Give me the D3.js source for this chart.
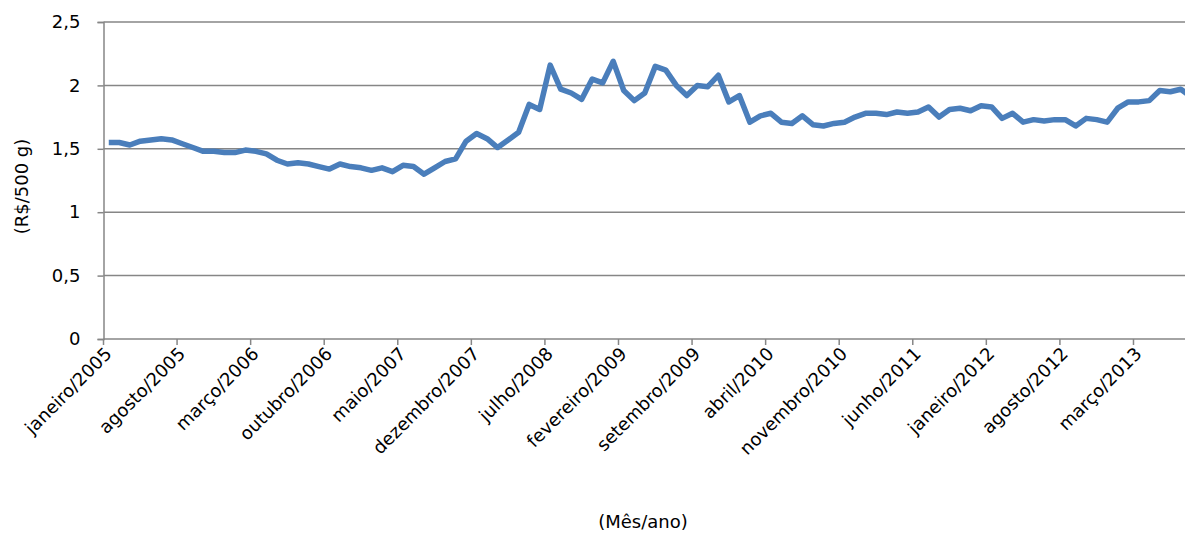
<!DOCTYPE html>
<html>
<head>
<meta charset="utf-8">
<script src="https://cdn.jsdelivr.net/npm/d3@7"></script>
<style>
  html, body { margin: 0; padding: 0; background: #fff; }
  svg { display: block; font-family: "DejaVu Sans", Verdana, sans-serif; }
</style>
</head>
<body>
<svg id="chart" width="1185" height="534"></svg>
<script>
// Monthly average price (R$/500 g), janeiro/2005 onwards
const monthNames = ["janeiro","fevereiro","março","abril","maio","junho",
  "julho","agosto","setembro","outubro","novembro","dezembro"];
const startYear = 2005;

const prices = [
  1.55, 1.55, 1.53, 1.56, 1.57, 1.58, 1.57, 1.54, 1.51, 1.48, 1.48, 1.47,
  1.47, 1.49, 1.48, 1.46, 1.41, 1.38, 1.39, 1.38, 1.36, 1.34, 1.38, 1.36,
  1.35, 1.33, 1.35, 1.32, 1.37, 1.36, 1.30, 1.35, 1.40, 1.42, 1.56, 1.62,
  1.58, 1.51, 1.57, 1.63, 1.85, 1.81, 2.16, 1.97, 1.94, 1.89, 2.05, 2.02,
  2.19, 1.96, 1.88, 1.94, 2.15, 2.12, 2.00, 1.92, 2.00, 1.99, 2.08, 1.87,
  1.92, 1.71, 1.76, 1.78, 1.71, 1.70, 1.76, 1.69, 1.68, 1.70, 1.71, 1.75,
  1.78, 1.78, 1.77, 1.79, 1.78, 1.79, 1.83, 1.75, 1.81, 1.82, 1.80, 1.84,
  1.83, 1.74, 1.78, 1.71, 1.73, 1.72, 1.73, 1.73, 1.68, 1.74, 1.73, 1.71,
  1.82, 1.87, 1.87, 1.88, 1.96, 1.95, 1.97, 1.91
];

const yTicks = [0, 0.5, 1, 1.5, 2, 2.5];
const tickEvery = 7;

const yLabel = "(R$/500 g)";
const xLabel = "(Mês/ano)";

// month categories, one per price
const categories = prices.map((_, i) =>
  monthNames[i % 12] + "/" + (startYear + Math.floor(i / 12)));

const svg = d3.select("#chart");
const plot = { left: 103.5, top: 22, bottom: 339, step: 10.51 };
plot.right = plot.left + plot.step * categories.length;

const x = d3.scaleBand()
  .domain(categories)
  .range([plot.left, plot.right])
  .paddingInner(0).paddingOuter(0);

const y = d3.scaleLinear().domain([0, 2.5]).range([plot.bottom, plot.top]);

const fmt = v => String(v).replace(".", ",");
const grey = "#868686";

// horizontal gridlines
svg.append("g")
  .selectAll("line")
  .data(yTicks.filter(d => d > 0))
  .join("line")
  .attr("x1", plot.left).attr("x2", plot.right)
  .attr("y1", d => y(d)).attr("y2", d => y(d))
  .attr("stroke", grey).attr("stroke-width", 1.5);

// y axis
const yAxis = svg.append("g")
  .attr("transform", `translate(${plot.left},0)`)
  .call(d3.axisLeft(y).tickValues(yTicks).tickFormat(fmt).tickSize(6).tickPadding(17));
yAxis.select(".domain").attr("stroke", grey).attr("stroke-width", 1.5);
yAxis.selectAll(".tick line").attr("stroke", grey).attr("stroke-width", 1.5);
yAxis.selectAll(".tick text")
  .attr("font-size", 18).attr("fill", "#000")
  .attr("font-family", "DejaVu Sans");

// x axis: ticks at category boundaries every 7 months
const tickCats = categories.filter((_, i) => i % tickEvery === 0);
const xAxisG = svg.append("g");
xAxisG.append("line")
  .attr("x1", plot.left).attr("x2", plot.right)
  .attr("y1", plot.bottom).attr("y2", plot.bottom)
  .attr("stroke", grey).attr("stroke-width", 1.5);
xAxisG.selectAll("line.tk")
  .data(tickCats)
  .join("line").attr("class", "tk")
  .attr("x1", d => x(d)).attr("x2", d => x(d))
  .attr("y1", plot.bottom).attr("y2", plot.bottom + 6)
  .attr("stroke", grey).attr("stroke-width", 1.5);
xAxisG.selectAll("text")
  .data(tickCats)
  .join("text")
  .attr("transform", d => `translate(${x(d) + x.bandwidth() / 2 + 4},${plot.bottom + 16}) rotate(-45)`)
  .attr("text-anchor", "end")
  .attr("font-size", 18)
  .attr("fill", "#000")
  .text(d => d);

// price line
const line = d3.line()
  .x((d, i) => x(categories[i]) + x.bandwidth() / 2)
  .y(d => y(d));

svg.append("path")
  .datum(prices)
  .attr("d", line)
  .attr("fill", "none")
  .attr("stroke", "#4A7EBB")
  .attr("stroke-width", 5.5)
  .attr("stroke-linejoin", "round");

// axis titles
svg.append("text")
  .attr("transform", `translate(28,${(plot.top + plot.bottom) / 2 + 6}) rotate(-90)`)
  .attr("text-anchor", "middle")
  .attr("font-size", 18)
  .text(yLabel);

svg.append("text")
  .attr("x", 643).attr("y", 528)
  .attr("text-anchor", "middle")
  .attr("font-size", 18)
  .text(xLabel);
</script>
</body>
</html>
